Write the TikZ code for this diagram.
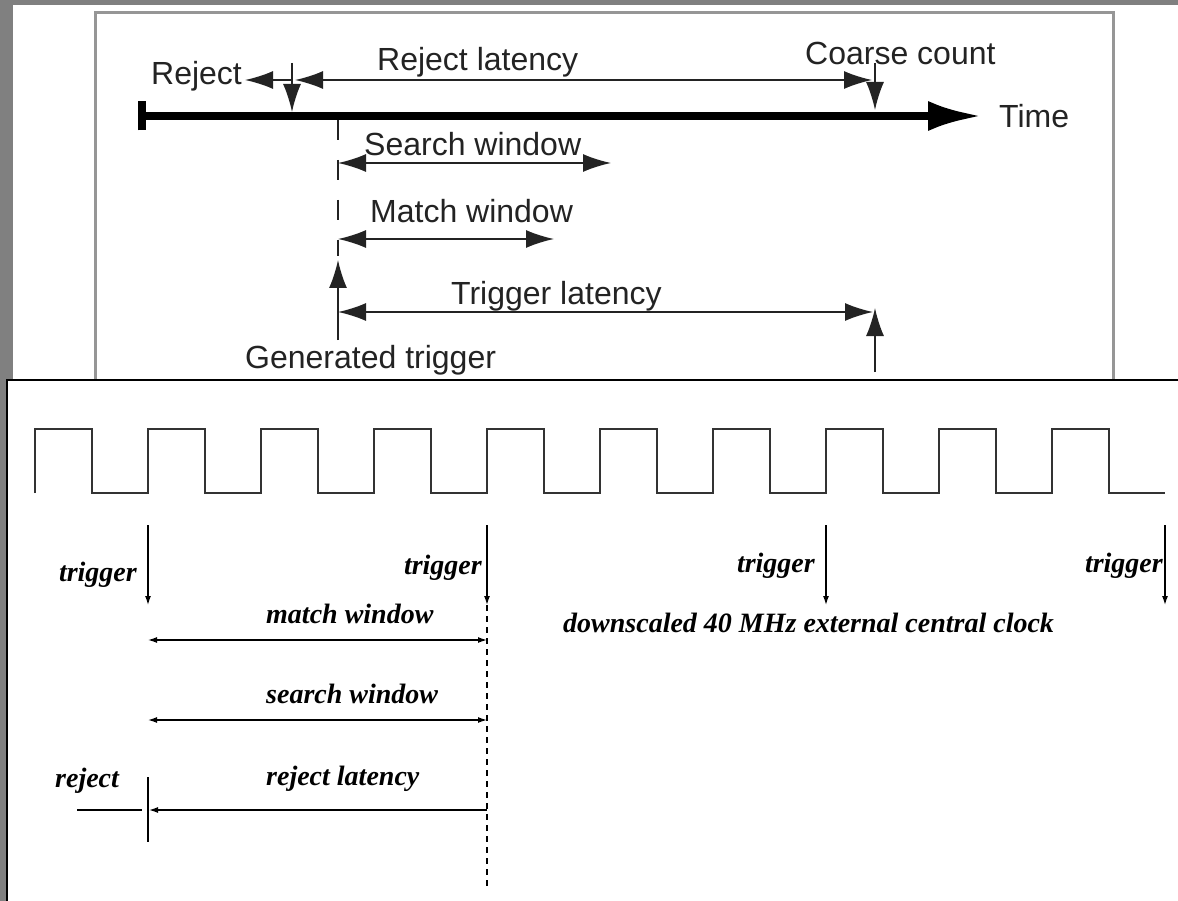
\documentclass[tikz,border=0pt]{standalone}
\usepackage{fontspec}
\newfontfamily\helv{Liberation Sans}
\newfontfamily\tms{Liberation Serif}
\usetikzlibrary{arrows.meta}
\definecolor{framegray}{RGB}{128,128,128}
\definecolor{boxgray}{RGB}{150,150,150}
\definecolor{inkgray}{RGB}{35,35,35}

\tikzset{
  sans/.style={font=\helv\fontsize{32}{38}\selectfont, text=inkgray, inner sep=0pt, anchor=base west},
  serif/.style={font=\tms\bfseries\itshape\fontsize{28}{34}\selectfont, inner sep=0pt},
  fatline/.style={line width=1.6pt, inkgray},
  fathead/.style={fatline, -{Latex[length=28pt,width=18pt]}},
  fatboth/.style={fatline, {Latex[length=28pt,width=18pt]}-{Latex[length=28pt,width=18pt]}},
  wave/.style={line width=1.6pt, black!80, line join=miter},
  thinline/.style={line width=1.3pt, black},
  thinhead/.style={thinline, -{Latex[length=9pt,width=6pt]}},
  thinboth/.style={thinline, {Latex[length=9pt,width=6pt]}-{Latex[length=9pt,width=6pt]}},
}

\begin{document}
\begin{tikzpicture}[x=1pt, y=-1pt]
  % frame and panels
  \fill[framegray] (0,0) rectangle (1178,901);
  \useasboundingbox (0,0) rectangle (1178,901);
  \fill[white] (13,5) rectangle (1178,380);
  \draw[boxgray, line width=3pt] (95,380) -- (95,13) -- (1113,13) -- (1113,380);

  % upper picture: the time axis
  \coordinate (axisL) at (138,116);
  \coordinate (axisR) at (982,116);
  \draw[line width=8pt, black, {Bar[width=29pt]}-{Latex[length=54pt,width=30pt]}] (axisL) -- (axisR);
  \node[sans] (time) at (999,128) {Time};

  % reject and coarse count markers
  \coordinate (rejTop) at (292,63);
  \coordinate (rejBot) at (292,112);
  \coordinate (rejMid) at (292,80);
  \coordinate (rejEnd) at (245,80);
  \coordinate (latL) at (295,80);
  \coordinate (latR) at (872,80);
  \coordinate (ccTop) at (875,63);
  \coordinate (ccBot) at (875,110);
  \draw[fathead] (rejTop) -- (rejBot);
  \draw[fathead] (rejMid) -- (rejEnd);
  \draw[fatboth] (latL) -- (latR);
  \draw[fathead] (ccTop) -- (ccBot);
  \node[sans] (reject) at (151,85) {Reject};
  \node[sans] (rejlat) at (377,71) {Reject latency};
  \node[sans] (coarse) at (805,65) {Coarse count};

  % windows below the trigger point
  \coordinate (trigA) at (338,120);
  \coordinate (trigB) at (338,256);
  \draw[fatline, dash pattern=on 20pt off 20pt] (trigA) -- (trigB);
  \coordinate (swL) at (338,163);
  \coordinate (swR) at (611,163);
  \draw[fatboth] (swL) -- (swR);
  \node[sans] (search) at (364,156) {Search window};
  \coordinate (mwL) at (338,239);
  \coordinate (mwR) at (554,239);
  \draw[fatboth] (mwL) -- (mwR);
  \node[sans] (match) at (370,223) {Match window};

  % trigger latency
  \coordinate (genBot) at (338,340);
  \coordinate (genTop) at (338,260);
  \draw[fathead] (genBot) -- (genTop);
  \coordinate (tlL) at (338,312);
  \coordinate (tlR) at (873,312);
  \draw[fatboth] (tlL) -- (tlR);
  \coordinate (upBot) at (875,372);
  \coordinate (upTop) at (875,308);
  \draw[fathead] (upBot) -- (upTop);
  \node[sans] (triglat) at (451,305) {Trigger latency};
  \node[sans] (gentrig) at (245,368) {Generated trigger};

  % lower picture
  \fill[white] (7,380) rectangle (1178,901);
  \draw[line width=2pt, black] (7,901) -- (7,380) -- (1178,380);

  % clock
  \draw[wave] (35,493) \foreach \k in {0,...,9} { -- ++(0,-64) -- ++(57,0) -- ++(0,64) -- ++(56,0) };

  % triggers
  \foreach \x/\lx/\ly [count=\i] in {148/137/581, 487/482/574, 826/815/572, 1165/1163/572} {
    \coordinate (trT\i) at (\x,525);
    \coordinate (trB\i) at (\x,605);
    \draw[thinhead] (trT\i) -- (trB\i);
    \node[serif, anchor=base east] (trL\i) at (\lx,\ly) {trigger};
  }
  \node[serif, anchor=base west] (clock) at (563,632) {downscaled 40 MHz external central clock};

  % windows
  \coordinate (mL) at (148,640);
  \coordinate (mR) at (487,640);
  \draw[thinboth] (mL) -- (mR);
  \node[serif, anchor=base west] (mwin) at (266,623) {match window};
  \coordinate (sL) at (148,720);
  \coordinate (sR) at (487,720);
  \draw[thinboth] (sL) -- (sR);
  \node[serif, anchor=base west] (swin) at (266,703) {search window};
  \coordinate (rR) at (487,810);
  \coordinate (rL) at (149,810);
  \draw[thinhead] (rR) -- (rL);
  \node[serif, anchor=base west] (rlat) at (266,785) {reject latency};
  \coordinate (barT) at (148,777);
  \coordinate (barB) at (148,842);
  \draw[thinline] (barT) -- (barB);
  \coordinate (stubL) at (77,810);
  \coordinate (stubR) at (142,810);
  \draw[thinline] (stubL) -- (stubR);
  \node[serif, anchor=base west] (rej) at (55,787) {reject};
  \coordinate (dashT) at (487,605);
  \coordinate (dashB) at (487,890);
  \draw[thinline, dash pattern=on 6pt off 5pt] (dashT) -- (dashB);
\end{tikzpicture}
\end{document}
